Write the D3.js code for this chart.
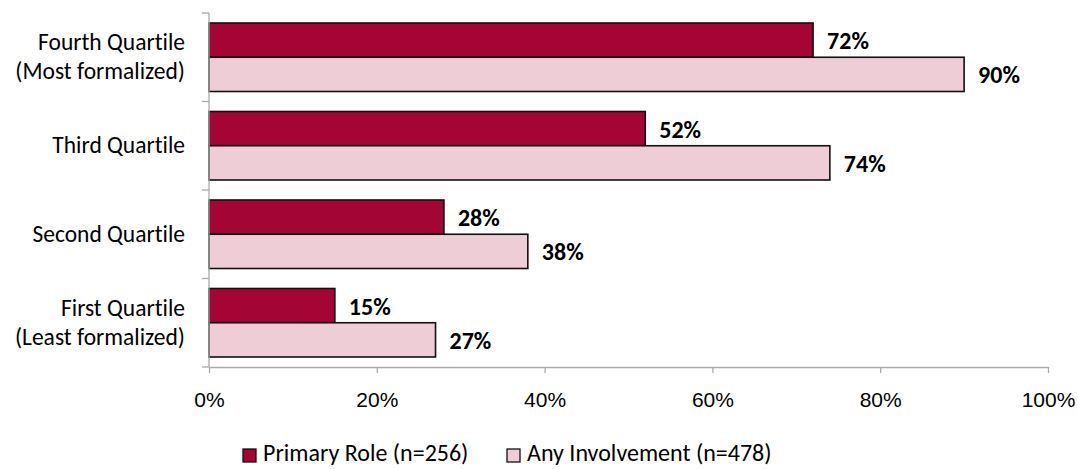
<!DOCTYPE html>
<html>
<head>
<meta charset="utf-8">
<script src="https://cdn.jsdelivr.net/npm/d3@7"></script>
<style>
  html, body { margin: 0; padding: 0; background: #fff; }
  svg { display: block; font-family: Carlito, Calibri, Lato, "Liberation Sans", sans-serif; font-variant-ligatures: none; }
</style>
</head>
<body>
<svg id="chart" width="1078" height="469"></svg>
<script>
// Quartile categories, top to bottom
const categories = [
  ["Fourth Quartile", "(Most formalized)"],
  ["Third Quartile"],
  ["Second Quartile"],
  ["First Quartile", "(Least formalized)"]
];
const seriesNames = ["Primary Role (n=256)", "Any Involvement (n=478)"];
const primaryRole = [72, 52, 28, 15];
const anyInvolvement = [90, 74, 38, 27];
const xTicks = [0, 20, 40, 60, 80, 100];
const colors = ["#A50534", "#EECDD6"];

const svg = d3.select("#chart");
const x0 = 209, x1 = 1048;
const y0 = 13, y1 = 367;

const x = d3.scaleLinear().domain([0, 100]).range([x0, x1]);
const keys = categories.map((c, i) => i);
const y = d3.scaleBand().domain(keys).range([y0, y1]).paddingInner(0.226).paddingOuter(0.113);
const ySub = d3.scaleBand().domain([0, 1]).range([0, y.bandwidth()]);

const series = [primaryRole, anyInvolvement];
const g = svg.append("g");

// bars and value labels
series.forEach((vals, s) => {
  g.selectAll(null).data(vals).enter().append("rect")
    .attr("x", x(0))
    .attr("y", (d, i) => y(i) + ySub(s))
    .attr("width", d => x(d) - x(0))
    .attr("height", ySub.bandwidth())
    .attr("fill", colors[s])
    .attr("stroke", "#111")
    .attr("stroke-width", 1.6);
  g.selectAll(null).data(vals).enter().append("text")
    .attr("x", d => x(d) + 14)
    .attr("y", (d, i) => y(i) + ySub(s) + ySub.bandwidth() / 2 + 9)
    .attr("font-size", 24)
    .attr("font-weight", "bold")
    .attr("fill", "#000")
    .text(d => d + "%");
});

// y axis line with category boundary ticks
const axisColor = "#ABABAB";
const yEdges = d3.range(categories.length + 1).map(i => y0 + (y1 - y0) * i / categories.length);
g.append("line").attr("x1", x0).attr("x2", x0).attr("y1", y0).attr("y2", y1)
  .attr("stroke", axisColor).attr("stroke-width", 1.3);
g.selectAll(null).data(yEdges).enter().append("line")
  .attr("x1", x0 - 7).attr("x2", x0).attr("y1", d => d).attr("y2", d => d)
  .attr("stroke", axisColor).attr("stroke-width", 1.3);

// category labels
categories.forEach((lines, i) => {
  const cy = y0 + (y1 - y0) * (i + 0.5) / categories.length;
  const lh = 29;
  lines.forEach((t, j) => {
    g.append("text")
      .attr("x", 185)
      .attr("y", cy + (j - (lines.length - 1) / 2) * lh + 7.5)
      .attr("text-anchor", "end")
      .attr("font-size", 23.5)
      .attr("fill", "#000")
      .text(t);
  });
});

// x axis
const xAxis = d3.axisBottom(x).tickValues(xTicks).tickSize(6).tickSizeOuter(0).tickFormat(d => d + "%");
const xa = g.append("g").attr("transform", `translate(0,${y1})`).call(xAxis);
xa.select(".domain").attr("stroke", axisColor).attr("stroke-width", 1.3);
xa.selectAll(".tick line").attr("stroke", axisColor).attr("stroke-width", 1.3);
xa.selectAll(".tick text").attr("font-size", 21).attr("fill", "#000")
  .attr("font-family", null).attr("y", 40).attr("dy", null);

// legend
const legendX = [243, 507];
seriesNames.forEach((name, s) => {
  const lg = g.append("g").attr("transform", `translate(${legendX[s]},461)`);
  lg.append("rect").attr("x", 0).attr("y", -12).attr("width", 13).attr("height", 13)
    .attr("fill", colors[s]).attr("stroke", "#111").attr("stroke-width", 1.3);
  lg.append("text").attr("x", 20).attr("y", 0)
    .attr("font-size", 24).attr("fill", "#000").text(name);
});
</script>
</body>
</html>
